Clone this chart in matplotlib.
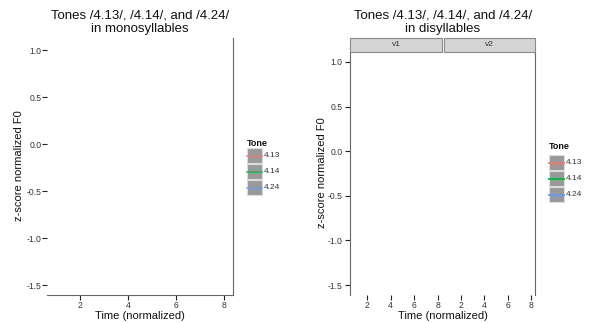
import matplotlib
matplotlib.use("Agg")
import matplotlib.pyplot as plt
from matplotlib.patches import Rectangle
from matplotlib.lines import Line2D

plt.rcParams["font.family"] = ["Liberation Sans", "DejaVu Sans"]

# data (the original plot shows no drawn curves, only the frame and legend)
tones = ["4.13", "4.14", "4.24"]
tone_colors = ["#F8766D", "#00BA38", "#619CFF"]
facets = ["v1", "v2"]
time_mono = []            # time points, monosyllables (empty in the original)
f0_mono = {t: [] for t in tones}
time_di = []              # time points, disyllables (empty in the original)
f0_di = {f: {t: [] for t in tones} for f in facets}
x_ticks = [2, 4, 6, 8]
y_ticks = [-1.5, -1.0, -0.5, 0.0, 0.5, 1.0]
y_ticklabels = ["-1.5", "-1.0", "-0.5", "0.0", "0.5", "1.0"]

W, H = 591, 323
fig = plt.figure(figsize=(W / 100, H / 100), dpi=100)

TXT = "#333333"
SPINE = "#666666"


def px_axes(x0, y0, x1, y1):
    return fig.add_axes([x0 / W, 1 - y1 / H, (x1 - x0) / W, (y1 - y0) / H])


def fx(x):
    return x / W


def fy(y):
    return 1 - y / H


def style(ax, show_y=True):
    for s in ax.spines.values():
        s.set_visible(False)
        s.set_color(SPINE)
        s.set_linewidth(0.8)
    ax.set_facecolor("none")
    ax.set_xticks(x_ticks)
    ax.set_xticklabels([str(t) for t in x_ticks])
    ax.tick_params(axis="both", direction="out", length=3.3, width=0.8,
                   labelsize=6.2, colors="#222222", labelcolor=TXT, pad=2)
    ax.tick_params(axis="x", pad=1)
    if show_y:
        ax.set_yticks(y_ticks)
        ax.set_yticklabels(y_ticklabels)
    else:
        ax.set_yticks([])


def legend(x, y_title, y_first, alpha):
    fig.text(fx(x), fy(y_title), "Tone", fontsize=6.5, fontweight="bold",
             color="#111111", ha="left", va="center")
    for i, (t, c) in enumerate(zip(tones, tone_colors)):
        top = y_first + i * 16
        fig.add_artist(Rectangle((fx(x), fy(top + 15)), 15 / W, 15 / H,
                                 transform=fig.transFigure, facecolor="#999999",
                                 edgecolor="#dddddd", lw=0.8))
        fig.add_artist(Line2D([fx(x), fx(x + 15)], [fy(top + 7.5)] * 2,
                              transform=fig.transFigure, color=c, lw=1.3,
                              alpha=alpha))
        fig.text(fx(x + 17), fy(top + 7.5), t, fontsize=6, color=TXT,
                 ha="left", va="center")


# ---- left: monosyllables
ax1 = px_axes(47, 38, 233, 295)
for t, c in zip(tones, tone_colors):
    ax1.plot(time_mono, f0_mono[t], color=c, label=t)
ax1.set_xlim(0.625, 8.375)
ax1.set_ylim(-1.606, 1.128)
style(ax1)
ax1.spines["bottom"].set_visible(True)
ax1.spines["right"].set_visible(True)
ax1.tick_params(axis="y", pad=0.5)

fig.text(fx(140), fy(22), "Tones /4.13/, /4.14/, and /4.24/\nin monosyllables",
         fontsize=9.5, ha="center", va="center", linespacing=1.2, color="#111111")
fig.text(fx(19), fy(166), "z-score normalized F0", fontsize=8, rotation=90,
         ha="center", va="center", color="#111111")
fig.text(fx(140), fy(316), "Time (normalized)", fontsize=8,
         ha="center", va="center", color="#111111")
legend(247, 143, 148, 0.7)

# ---- right: disyllables, faceted by vowel
bounds = [(350, 442), (444, 535)]
for k, (f, (x0, x1)) in enumerate(zip(facets, bounds)):
    ax = px_axes(x0, 52, x1, 295)
    for t, c in zip(tones, tone_colors):
        ax.plot(time_di, f0_di[f][t], color=c, label=t)
    ax.set_xlim(0.55, 8.35)
    ax.set_ylim(-1.612, 1.112)
    style(ax, show_y=(k == 0))
    if k == 0:
        ax.spines["left"].set_visible(True)
    else:
        ax.spines["right"].set_visible(True)
    fig.add_artist(Rectangle((fx(x0), fy(52)), (x1 - x0) / W, 14 / H,
                             transform=fig.transFigure, facecolor="#d4d4d4",
                             edgecolor="#8a8a8a", lw=0.8))
    fig.text(fx((x0 + x1) / 2), fy(45), f, fontsize=6, color=TXT,
             ha="center", va="center")

fig.text(fx(443), fy(22), "Tones /4.13/, /4.14/, and /4.24/\nin disyllables",
         fontsize=9.5, ha="center", va="center", linespacing=1.2, color="#111111")
fig.text(fx(322), fy(173), "z-score normalized F0", fontsize=8, rotation=90,
         ha="center", va="center", color="#111111")
fig.text(fx(443), fy(316), "Time (normalized)", fontsize=8,
         ha="center", va="center", color="#111111")
legend(549, 147, 155, 1.0)

fig.savefig("out.png", dpi=100)
